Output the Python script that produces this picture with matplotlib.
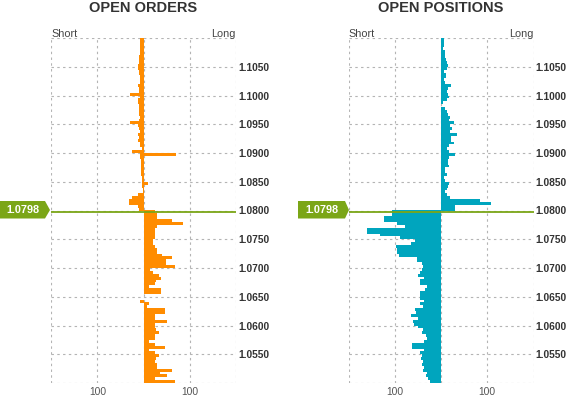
import numpy as np
import matplotlib
matplotlib.use("Agg")
import matplotlib.pyplot as plt
from matplotlib.patches import Polygon

plt.rcParams['font.family'] = ['Liberation Sans', 'DejaVu Sans']

# price bins of 0.0005, listed from the top (1.1100) down to the bottom (1.0500)
bin_size = 0.0005
top_price = 1.1100
current_price = 1.0798
price_ticks = [1.0550, 1.0600, 1.0650, 1.0700, 1.0750, 1.0800,
               1.0850, 1.0900, 1.0950, 1.1000, 1.1050]

# OPEN ORDERS - short side (above current price), top -> 1.0800
orders_short_above = [8, 8, 7, 7, 8, 7, 10, 10, 9, 13,
                      13, 10, 9, 8, 7, 8, 11, 10, 9, 29,
                      8, 13, 12, 10, 9, 10, 9, 8, 9, 29,
                      11, 10, 8, 12, 9, 13, 8, 7, 4, 24,
                      7, 7, 6, 6, 5, 5, 5, 5, 3, 4,
                      4, 3, 2, 2, 13, 25, 31, 31, 13, 10]
orders_long_above = [0] * 40 + [71] + [0] * 9 + [10] + [0] * 9
# OPEN ORDERS - long side (below current price), 1.0800 -> bottom
orders_long_below = [26, 29, 29, 61, 86, 29, 24, 24, 26, 26,
                     21, 20, 24, 29, 29, 40, 63, 49, 49, 68,
                     15, 21, 33, 39, 28, 24, 13, 39, 39, 2,
                     0, 0, 11, 7, 46, 46, 24, 24, 51, 26,
                     26, 28, 33, 26, 24, 13, 26, 46, 13, 24,
                     33, 28, 24, 29, 29, 61, 35, 51, 24, 68]
orders_short_below = [0] * 31 + [7] + [0] * 28

# OPEN POSITIONS - long side (above current price)
pos_long_above = [6, 5, 5, 4, 8, 9, 8, 10, 12, 14,
                  13, 7, 10, 10, 6, 8, 21, 14, 13, 15,
                  16, 12, 4, 0, 8, 13, 15, 20, 16, 27,
                  20, 23, 20, 34, 22, 21, 28, 18, 12, 17,
                  29, 17, 15, 14, 16, 9, 8, 12, 7, 9,
                  16, 15, 13, 8, 12, 20, 85, 109, 29, 29]
# OPEN POSITIONS - short side (below current price)
pos_short_below = [106, 106, 124, 124, 97, 79, 161, 161, 132, 90,
                   57, 66, 98, 96, 96, 91, 53, 52, 42, 40,
                   42, 47, 50, 37, 47, 47, 31, 35, 46, 46,
                   46, 37, 46, 40, 57, 55, 66, 50, 61, 60,
                   50, 40, 42, 33, 30, 37, 64, 64, 37, 46,
                   42, 44, 40, 42, 37, 40, 31, 33, 29, 24]

W, H = 567, 397
fig = plt.figure(figsize=(W / 100, H / 100), dpi=100)

orange = '#ff8c00'
teal = '#00a5be'
green = '#7ba617'
grid_col = '#b4b4b4'
text_col = '#333333'

n_bins = 120
centers = top_price - bin_size * (np.arange(n_bins) + 0.5)


def px(x, y):
    return x / W, 1 - y / H


def make_panel(left_px, title, short_vals, long_vals, color, label_box):
    x0, _ = px(left_px, 0)
    ax = fig.add_axes([x0, 1 - 383 / H, 185 / W, (383 - 38) / H])
    ax.barh(centers, -np.array(short_vals), height=bin_size, left=0,
            color=color, linewidth=0)
    ax.barh(centers, np.array(long_vals), height=bin_size, left=0,
            color=color, linewidth=0)
    ax.set_xlim(-201, 201)
    ax.set_ylim(1.0500, 1.1100)

    # dashed grid incl. the borders
    for gx in [-201, -100, 0, 100, 201]:
        ax.axvline(gx, color=grid_col, lw=0.8, ls=(0, (2.2, 3.0)), zorder=0)
    for gy in np.arange(1.0500, 1.11001, 0.005):
        ax.axhline(gy, color=grid_col, lw=0.8, ls=(0, (2.2, 3.0)), zorder=0)

    ax.axhline(current_price, color=green, lw=1.3, zorder=3)

    for s in ax.spines.values():
        s.set_visible(False)
    ax.yaxis.tick_right()
    ax.set_yticks(price_ticks)
    ax.set_yticklabels([f'{p:.4f}' for p in price_ticks],
                       fontsize=7.4, fontweight='bold', color=text_col)
    ax.set_xticks([-100, 100])
    ax.set_xticklabels(['100', '100'], fontsize=7.4, color='#555555')
    ax.tick_params(length=0, pad=1.5)
    ax.tick_params(axis='x', pad=3)

    ax.text(0, 1.004, 'Short', transform=ax.transAxes, ha='left', va='baseline',
            fontsize=7.8, color='#444444')
    ax.text(1, 1.004, 'Long', transform=ax.transAxes, ha='right', va='baseline',
            fontsize=7.8, color='#444444')
    cx, cy = px(left_px + 92, 8)
    fig.text(cx, cy, title, ha='center', va='center', fontsize=10.5,
             fontweight='bold', color=text_col)

    # current price tag
    bx0, bx1, tip = label_box
    pts = [px(bx0, 201), px(bx1, 201), px(tip, 210), px(bx1, 218.5), px(bx0, 218.5)]
    fig.add_artist(Polygon(pts, closed=True, transform=fig.transFigure,
                           facecolor=green, edgecolor='none'))
    tx, ty = px((bx0 + bx1) / 2, 210)
    fig.text(tx, ty, f'{current_price:.4f}', ha='center', va='center',
             fontsize=7.8, fontweight='bold', color='white')
    return ax


orders_short = orders_short_above + orders_short_below
orders_long = orders_long_above + orders_long_below
pos_short = [0] * 60 + pos_short_below
pos_long = pos_long_above + [0] * 60

make_panel(51, 'OPEN ORDERS', orders_short, orders_long, orange, (0, 45, 50))
make_panel(348.7, 'OPEN POSITIONS', pos_short, pos_long, teal, (298, 345, 349))

fig.savefig('out.png', dpi=100)
